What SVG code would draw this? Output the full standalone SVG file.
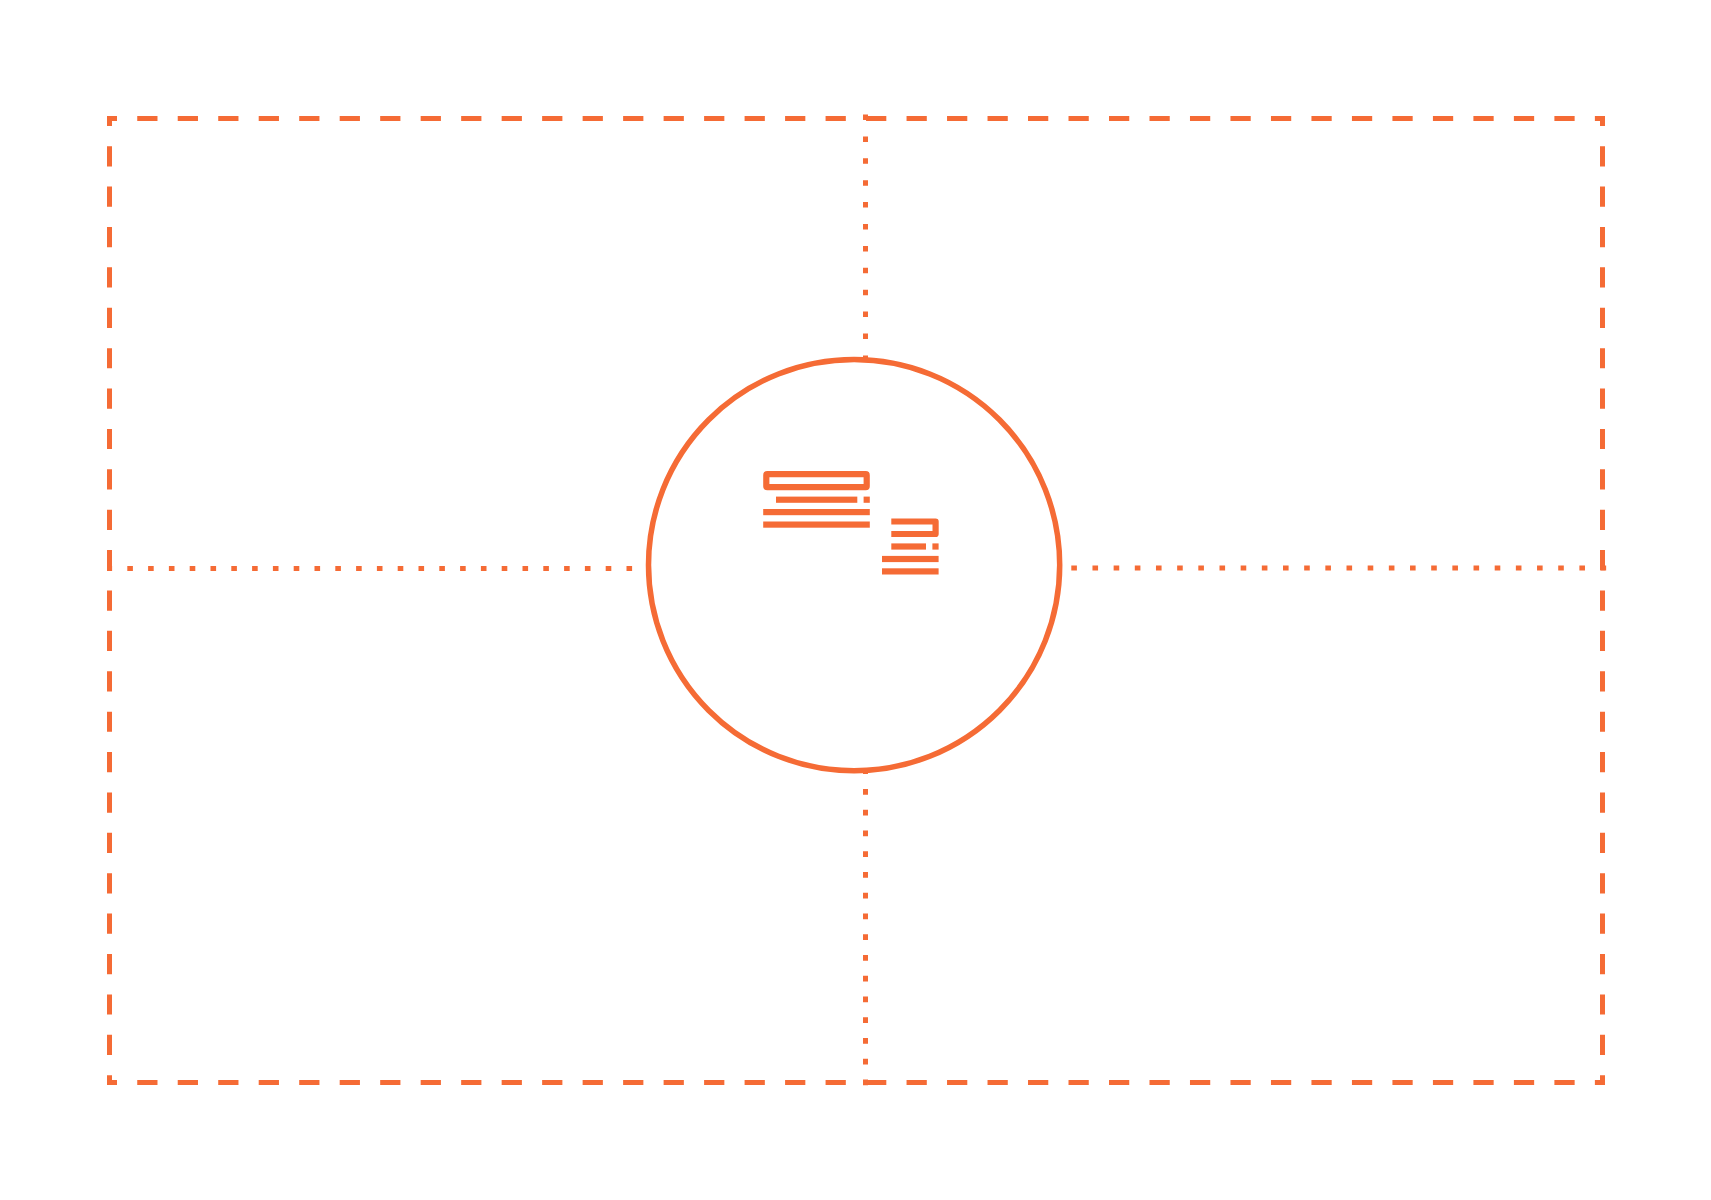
<svg xmlns="http://www.w3.org/2000/svg" width="1711" height="1200" viewBox="0 0 1711 1200">
<style>
.line{fill:none;stroke:#f56b35;stroke-width:5}
.ring{fill:none;stroke:#f56b35;stroke-width:5.5}
.h{stroke-dasharray:20.25 20.24;stroke-dashoffset:10.25}
.v{stroke-dasharray:20.2 20.19;stroke-dashoffset:10.2}
.bar{fill:#f56b35}
</style>
<rect width="1711" height="1200" fill="#fff"/>
<g id="connectors">
<line class="line h" x1="107" y1="118.5" x2="1605" y2="118.5"/>
<line class="line h" x1="107" y1="1082.5" x2="1605" y2="1082.5"/>
<line class="line v" x1="109.5" y1="116" x2="109.5" y2="1085"/>
<line class="line v" x1="1602.5" y1="116" x2="1602.5" y2="1085"/>
<line class="line" x1="865.5" y1="114.5" x2="865.5" y2="358" stroke-dasharray="5.5 16.4"/>
<line class="line" x1="865.5" y1="768.3" x2="865.5" y2="1085.2" stroke-dasharray="5.6 15.15"/>
<line class="line" x1="107" y1="568.5" x2="632.2" y2="568.5" stroke-dasharray="5.6 15.2" stroke-dashoffset="0.5"/>
<line class="line" x1="1071.3" y1="568" x2="1606.2" y2="568" stroke-dasharray="5.6 15.57"/>
</g>
<g id="center-node">
<circle class="ring" cx="854.1" cy="565.1" r="205.6"/>
</g>
<g id="icon-large">
<rect x="766.3" y="474.2" width="100.4" height="13" rx="1" fill="none" stroke="#f56b35" stroke-width="6.2"/>
<rect class="bar" x="776" y="496.6" width="81.3" height="6.2"/>
<rect class="bar" x="863.6" y="496.6" width="6.2" height="6.2"/>
<rect class="bar" x="763.2" y="509" width="106.6" height="6.2"/>
<rect class="bar" x="763.2" y="521.5" width="106.6" height="6.2"/>
</g>
<g id="icon-small">
<path d="M891.3 521.5H935.6V534H891.3" fill="none" stroke="#f56b35" stroke-width="6.2" stroke-linejoin="round"/>
<rect class="bar" x="891.3" y="543.4" width="34.7" height="6.2"/>
<rect class="bar" x="932.4" y="543.4" width="6.2" height="6.2"/>
<rect class="bar" x="882" y="555.9" width="56.6" height="6.2"/>
<rect class="bar" x="882" y="568.3" width="56.6" height="6.2"/>
</g>
</svg>
